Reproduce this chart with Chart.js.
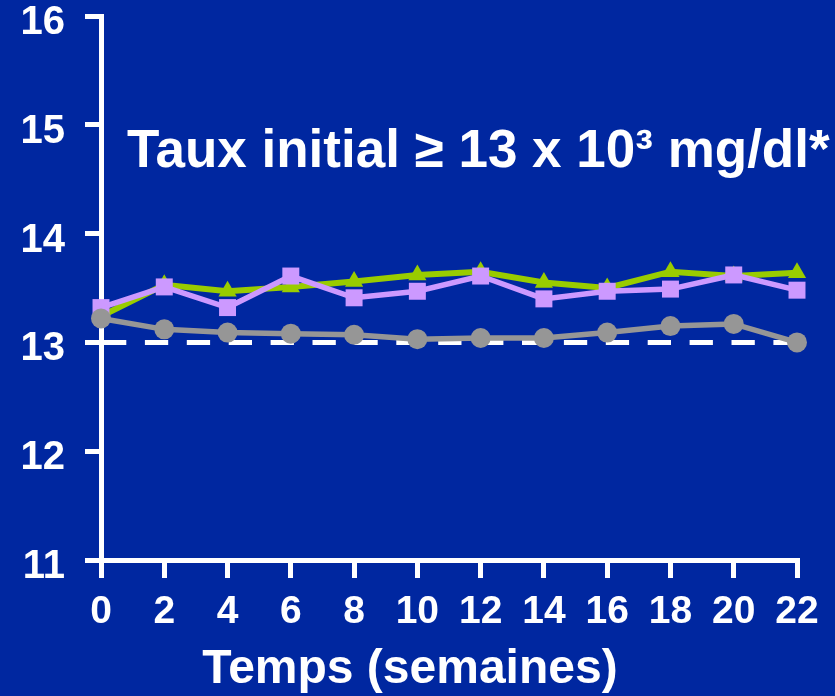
<!DOCTYPE html>
<html>
<head>
<meta charset="utf-8">
<script src="https://cdn.jsdelivr.net/npm/chart.js@4"></script>
<style>
  html, body { margin: 0; padding: 0; background: #0027A0; }
  canvas { display: block; }
</style>
</head>
<body>
<canvas id="chart" width="835" height="696"></canvas>
<script>
// Weeks of follow-up (x categories)
const weeks = ['0', '2', '4', '6', '8', '10', '12', '14', '16', '18', '20', '22'];

// Mean level per group at each visit (x 10^3 mg/dl)
const seriesGreen  = [13.24, 13.53, 13.47, 13.51, 13.56, 13.62, 13.65, 13.55, 13.50, 13.65, 13.61, 13.64];
const seriesPurple = [13.32, 13.51, 13.32, 13.61, 13.41, 13.47, 13.61, 13.40, 13.47, 13.49, 13.62, 13.48];
const seriesGray   = [13.22, 13.12, 13.09, 13.08, 13.07, 13.03, 13.04, 13.04, 13.09, 13.15, 13.17, 13.00];

// Reference threshold and value axis range
const threshold = 13;
const yMin = 11;
const yMax = 16;
const yStep = 1;

const headline = 'Taux initial \u2265 13 x 10\u00B3 mg/dl*';
const xTitle = 'Temps (semaines)';

const FONT = '"Liberation Sans", Arial, Helvetica, sans-serif';
const BG = '#0027A0';
const WHITE = '#FFFFFF';

const backgroundPlugin = {
  id: 'background',
  beforeDraw(chart) {
    const ctx = chart.ctx;
    ctx.save();
    ctx.fillStyle = BG;
    ctx.fillRect(0, 0, chart.width, chart.height);
    ctx.restore();
  }
};

const headlinePlugin = {
  id: 'headline',
  afterDraw(chart) {
    const { ctx, chartArea } = chart;
    ctx.save();
    ctx.font = 'bold 53px ' + FONT;
    ctx.fillStyle = WHITE;
    ctx.textAlign = 'left';
    ctx.textBaseline = 'alphabetic';
    ctx.fillText(headline, chartArea.left + 26, chartArea.top + 151);
    ctx.restore();
  }
};

new Chart(document.getElementById('chart'), {
  type: 'line',
  data: {
    labels: weeks,
    datasets: [
      {
        label: 'seuil',
        data: weeks.map(() => threshold),
        borderColor: WHITE,
        borderWidth: 5,
        borderDash: [23.3, 18.6],
        borderDashOffset: -2,
        pointRadius: 0,
        order: 3
      },
      {
        label: 'A',
        data: seriesGreen,
        borderColor: '#99CC00',
        backgroundColor: '#99CC00',
        borderWidth: 6,
        pointStyle: 'triangle',
        pointRadius: 10.5,
        pointBorderWidth: 0,
        order: 2
      },
      {
        label: 'B',
        data: seriesPurple,
        borderColor: '#CC99FF',
        backgroundColor: '#CC99FF',
        borderWidth: 5.5,
        pointStyle: 'rect',
        pointRadius: 12,
        pointBorderWidth: 0,
        order: 1
      },
      {
        label: 'C',
        data: seriesGray,
        borderColor: '#969696',
        backgroundColor: '#969696',
        borderWidth: 5.5,
        pointStyle: 'circle',
        pointRadius: 10,
        pointBorderWidth: 0,
        order: 0
      }
    ]
  },
  options: {
    responsive: false,
    devicePixelRatio: 1,
    animation: false,
    layout: { padding: { left: 23, right: 38, top: 16, bottom: 0 } },
    elements: { line: { tension: 0 } },
    plugins: {
      legend: { display: false },
      tooltip: { enabled: false },
      title: {
        display: true,
        position: 'bottom',
        text: xTitle,
        color: WHITE,
        font: { family: FONT, size: 48, weight: 'bold', lineHeight: 1 },
        padding: { top: 0, bottom: 2 }
      }
    },
    scales: {
      x: {
        offset: false,
        grid: {
          drawOnChartArea: false,
          color: WHITE,
          lineWidth: 5,
          tickLength: 18,
          tickWidth: 5,
          tickColor: WHITE
        },
        border: { display: true, color: WHITE, width: 5 },
        ticks: {
          color: WHITE,
          padding: 11,
          maxRotation: 0,
          autoSkip: false,
          font: { family: FONT, size: 39, weight: 'bold' }
        },
        afterFit(scale) {
          scale.height = 86;
        }
      },
      y: {
        min: yMin,
        max: yMax,
        grid: {
          drawOnChartArea: false,
          color: WHITE,
          lineWidth: 5,
          tickLength: 16,
          tickWidth: 5,
          tickColor: WHITE
        },
        border: { display: true, color: WHITE, width: 5 },
        ticks: {
          stepSize: yStep,
          color: WHITE,
          padding: 20,
          labelOffset: 7,
          font: { family: FONT, size: 40, weight: 'bold' }
        },
        afterFit(scale) {
          scale.width = 78;
          scale.paddingTop = 0;
          scale.paddingBottom = 0;
        }
      }
    }
  },
  plugins: [backgroundPlugin, headlinePlugin]
});
</script>
</body>
</html>
